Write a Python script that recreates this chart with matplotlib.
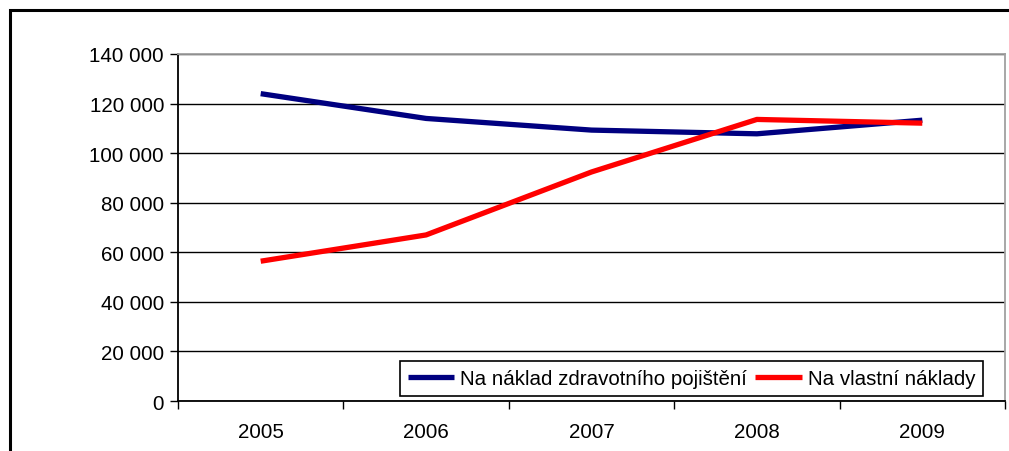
import matplotlib
matplotlib.use('Agg')
import matplotlib.pyplot as plt
from matplotlib.patches import Rectangle
from matplotlib.ticker import FuncFormatter

years = ["2005", "2006", "2007", "2008", "2009"]
insurance = [124000, 114000, 109300, 107800, 113300]
own_cost = [56400, 67000, 92400, 113600, 112100]
labels = ["Na náklad zdravotního pojištění", "Na vlastní náklady"]

plt.rcParams['font.family'] = ['Liberation Sans', 'DejaVu Sans']
FS = 14.8

fig = plt.figure(figsize=(10.09, 4.52), dpi=100)
ax = fig.add_axes([178 / 1009, 1 - 402 / 452, 827 / 1009, 347 / 452])

x = list(range(len(years)))
ax.plot(x, insurance, color='#000080', lw=3.8, label=labels[0], solid_capstyle='butt')
ax.plot(x, own_cost, color='#ff0000', lw=3.8, label=labels[1], solid_capstyle='butt')

ax.set_xlim(-0.5, len(years) - 0.5)
ax.set_ylim(0, 140000)
ax.set_yticks(range(0, 140001, 20000))
ax.yaxis.set_major_formatter(FuncFormatter(lambda v, p: format(int(v), ',').replace(',', ' ')))
ax.grid(axis='y', color='black', lw=1)
ax.set_axisbelow(True)

# category axis: ticks between categories, labels centred
ax.set_xticks([i - 0.5 for i in range(len(years) + 1)])
ax.set_xticklabels([])
ax.set_xticks(x, minor=True)
ax.set_xticklabels(years, minor=True)
ax.tick_params(axis='x', which='major', length=6, width=1, direction='out')
ax.tick_params(axis='x', which='minor', length=0, pad=15, labelsize=FS)
ax.tick_params(axis='y', length=6, width=1, direction='out', labelsize=FS, pad=4)

for s in ['left', 'bottom']:
    ax.spines[s].set_color('black')
    ax.spines[s].set_linewidth(1.3)
for s in ['top', 'right']:
    ax.spines[s].set_color('#a0a0a0')
    ax.spines[s].set_linewidth(1.3)

leg = ax.legend(loc='lower right', bbox_to_anchor=(0.974, 0.014), ncol=2, fontsize=FS,
                frameon=True, fancybox=False, edgecolor='black', borderaxespad=0,
                handlelength=2.25, handletextpad=0.3, columnspacing=0.4,
                borderpad=0.4)
leg.get_frame().set_linewidth(1.2)
leg.get_frame().set_alpha(1)

# outer frame of the chart area
fig.patches.append(Rectangle((10 / 1009, -0.2), 1.2, 1.2 - 11 / 452, transform=fig.transFigure,
                             fill=False, edgecolor='black', lw=2.2))

plt.savefig("out.png", dpi=100)
